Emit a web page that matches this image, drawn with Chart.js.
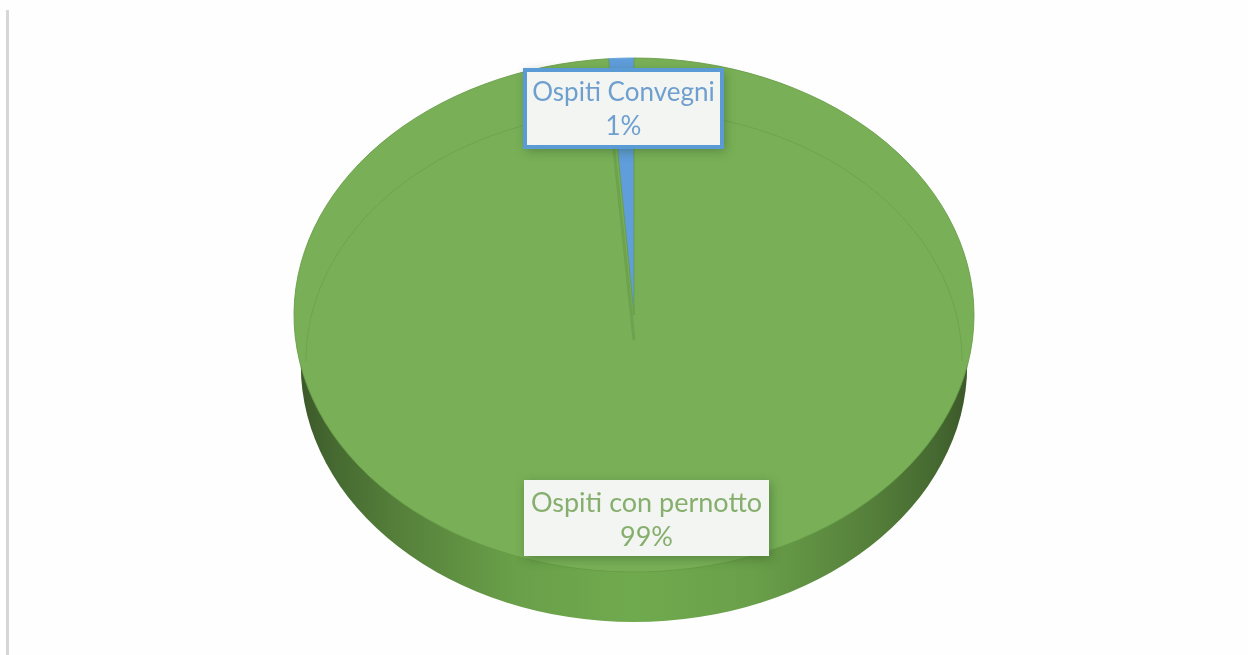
<!DOCTYPE html>
<html><head><meta charset="utf-8">
<style>
html,body{margin:0;padding:0;background:#fefefe;overflow:hidden}
#wrap{position:relative;width:1248px;height:655px}
#rule{position:absolute;left:6px;top:10px;width:3px;height:645px;background:#d6d6d6}
canvas{position:absolute;left:0;top:0}
</style>
<script src="https://cdn.jsdelivr.net/npm/chart.js@4"></script>
</head><body>
<div id="wrap"><div id="rule"></div><canvas id="c" width="1248" height="655"></canvas></div>
<script>
const categories = ['Ospiti Convegni', 'Ospiti con pernotto'];
const values = [1.2, 98.8];
const sliceColors = ['#5f9ddb', '#79b057'];
const labelColors = ['#6f9fcf', '#86ae6c'];

const SQUASH = 257 / 340, DEPTH = 50;

const tilt = {
  id: 'tilt',
  beforeDatasetDraw(chart, args) {
    const el = args.meta.data[0], ctx = chart.ctx;
    // extruded wall
    ctx.save();
    const wall = ctx.createLinearGradient(el.x - el.outerRadius, 0, el.x + el.outerRadius, 0);
    wall.addColorStop(0, '#3a5528');
    wall.addColorStop(0.06, '#466a31');
    wall.addColorStop(0.16, '#56813b');
    wall.addColorStop(0.32, '#699f49');
    wall.addColorStop(0.5, '#70aa4e');
    wall.addColorStop(0.68, '#699f49');
    wall.addColorStop(0.84, '#56813b');
    wall.addColorStop(0.94, '#466a31');
    wall.addColorStop(1, '#3a5528');
    ctx.fillStyle = wall;
    ctx.beginPath();
    ctx.ellipse(el.x, el.y + DEPTH, el.outerRadius * 0.98, el.outerRadius * SQUASH, 0, 0, Math.PI * 2);
    ctx.fill();
    ctx.restore();
    ctx.save();
    ctx.translate(el.x, el.y);
    ctx.scale(1, SQUASH);
    ctx.translate(-el.x, -el.y);
  },
  afterDatasetDraw(chart, args) {
    const el = args.meta.data[0], ctx = chart.ctx;
    ctx.restore();
    // faint ghost of the lower rim seen through the top face
    ctx.strokeStyle = 'rgba(70,120,50,0.22)';
    ctx.lineWidth = 1;
    ctx.beginPath();
    ctx.ellipse(el.x, el.y + DEPTH - 4, el.outerRadius * 0.965, el.outerRadius * SQUASH * 0.973, 0, Math.PI, Math.PI * 2);
    ctx.stroke();
    // soft shadow beside the thin slice
    const R = el.outerRadius;
    const topX = el.x + R * Math.cos(el.startAngle) - 4;
    const topY = el.y + R * Math.sin(el.startAngle) * SQUASH;
    const endX = el.x, endY = el.y + DEPTH * 0.5;
    const t = 0.3;
    ctx.strokeStyle = 'rgba(85,135,60,0.32)';
    ctx.lineWidth = 3;
    ctx.beginPath();
    ctx.moveTo(topX + (endX - topX) * t, topY + (endY - topY) * t);
    ctx.lineTo(endX, endY);
    ctx.stroke();
  }
};

const boxes = [
  { x: 524, y: 69, w: 199, h: 79, border: '#5b9bd5', bw: 4, font: 26, dy: [0.295, 0.725] },
  { x: 524, y: 480, w: 245, h: 76, border: null, bw: 0, font: 27, dy: [0.31, 0.75] }
];
const labelsPlugin = {
  id: 'sliceLabels',
  afterDraw(chart) {
    const ctx = chart.ctx;
    const total = values.reduce((a, b) => a + b, 0);
    categories.forEach((name, i) => {
      const b = boxes[i];
      ctx.save();
      ctx.shadowColor = 'rgba(40,70,30,0.4)';
      ctx.shadowBlur = 10;
      ctx.shadowOffsetX = 2;
      ctx.shadowOffsetY = 3;
      ctx.fillStyle = '#f2f5f2';
      ctx.fillRect(b.x, b.y, b.w, b.h);
      ctx.restore();
      if (b.border) {
        ctx.strokeStyle = b.border; ctx.lineWidth = b.bw;
        ctx.strokeRect(b.x + b.bw / 2 - 1, b.y + b.bw / 2 - 1, b.w - b.bw + 2, b.h - b.bw + 2);
      }
      ctx.fillStyle = labelColors[i];
      ctx.font = b.font + 'px Lato';
      ctx.textAlign = 'center';
      ctx.textBaseline = 'middle';
      const cx = b.x + b.w / 2;
      ctx.fillText(name, cx, b.y + b.h * b.dy[0]);
      ctx.fillText(Math.round(values[i] / total * 100) + '%', cx, b.y + b.h * b.dy[1]);
    });
  }
};

new Chart(document.getElementById('c'), {
  type: 'pie',
  data: { labels: categories, datasets: [{
    data: values,
    backgroundColor: sliceColors,
    borderColor: ['#5f9ddb', '#669b46'],
    borderWidth: 1,
    clip: false
  }]},
  options: {
    responsive: false,
    animation: false,
    radius: 340,
    rotation: -4.3,
    layout: { padding: { left: 20, bottom: 25 } },
    plugins: { legend: { display: false }, tooltip: { enabled: false } }
  },
  plugins: [tilt, labelsPlugin]
});
</script>
</body></html>
